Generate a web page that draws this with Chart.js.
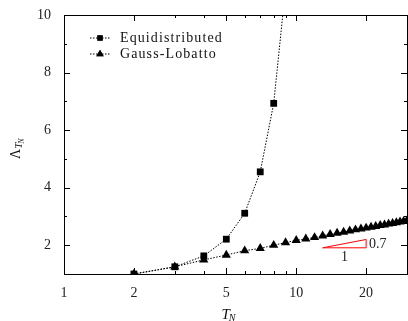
<!DOCTYPE html>
<html><head><meta charset="utf-8">
<script src="https://cdn.jsdelivr.net/npm/chart.js@4/dist/chart.umd.min.js"></script>
<style>html,body{margin:0;padding:0;background:#fff}#c{display:block}</style>
</head><body>
<canvas id="c" width="408" height="321"></canvas>
<script>
// ---- data ----
const equiN   = [2, 3, 4, 5, 6, 7, 8, 9];
const equiVal = [1.0, 1.25, 1.63, 2.21, 3.11, 4.55, 6.93, 10.95];
const glN     = [2,3,4,5,6,7,8,9,10,11,12,13,14,15,16,17,18,19,20,21,22,23,24,25,26,27,28,29,30];
const glVal   = [1.0,1.25,1.49,1.66,1.81,1.89,2.00,2.09,2.17,2.22,2.27,2.33,2.38,2.42,2.46,2.50,2.54,2.57,2.60,2.63,2.66,2.69,2.71,2.74,2.76,2.79,2.81,2.83,2.86];
const xMajorTicks = [1, 2, 5, 10, 20];
const xMinorTicks = [3, 4, 6, 7, 8, 9, 30];
const yMajorTicks = [2, 4, 6, 8, 10];
const yMinorTicks = [3, 5, 7, 9];
const legendLabels = ['Equidistributed', 'Gauss-Lobatto'];
const slopeTri = {x0: 13, x1: 20, y0: 1.91, y1: 2.2, rise: '0.7', run: '1'};

const SERIF = '"Liberation Serif", "DejaVu Serif", serif';
const toPts = (xs, ys) => xs.map((x, i) => ({x, y: ys[i]}));

const areaPlugin = {
  id: 'area',
  afterLayout(chart) {
    const a = chart.chartArea, x = chart.scales.x;
    const R = chart.width - 1;
    x.right = R; x.width = R - x.left; x.configure();
    a.right = R; a.width = R - a.left;
  }
};

const framePlugin = {
  id: 'frame',
  afterDraw(chart) {
    const {ctx, chartArea: a, scales: {x, y}} = chart;
    ctx.save();
    ctx.strokeStyle = '#000';
    ctx.lineWidth = 1;
    ctx.strokeRect(Math.round(a.left) + 0.5, Math.round(a.top) + 0.5,
                   Math.round(a.right - a.left), Math.round(a.bottom - a.top));
    ctx.beginPath();
    const tick = (v, len, isX) => {
      if (isX) {
        const px = Math.round(x.getPixelForValue(v)) + 0.5;
        if (px <= a.left + 1 || px >= a.right - 1) return;
        ctx.moveTo(px, a.bottom); ctx.lineTo(px, a.bottom - len);
        ctx.moveTo(px, a.top); ctx.lineTo(px, a.top + len);
      } else {
        const py = Math.round(y.getPixelForValue(v)) + 0.5;
        if (py <= a.top + 1 || py >= a.bottom - 1) return;
        ctx.moveTo(a.left, py); ctx.lineTo(a.left + len, py);
        ctx.moveTo(a.right, py); ctx.lineTo(a.right - len, py);
      }
    };
    xMajorTicks.forEach(v => tick(v, 6, true));
    xMinorTicks.forEach(v => tick(v, 3, true));
    yMajorTicks.forEach(v => tick(v, 6, false));
    yMinorTicks.forEach(v => tick(v, 3, false));
    ctx.stroke();

    // slope triangle
    const X0 = x.getPixelForValue(slopeTri.x0), X1 = x.getPixelForValue(slopeTri.x1);
    const Y0 = y.getPixelForValue(slopeTri.y0), Y1 = y.getPixelForValue(slopeTri.y1);
    ctx.strokeStyle = '#ff0000';
    ctx.beginPath();
    ctx.moveTo(X0, Y0); ctx.lineTo(X1, Y1); ctx.lineTo(X1, Y0); ctx.closePath();
    ctx.stroke();
    ctx.fillStyle = '#222';
    ctx.font = '14px ' + SERIF;
    ctx.textBaseline = 'middle';
    ctx.textAlign = 'left';
    ctx.fillText(slopeTri.rise, X1 + 3, (Y0 + Y1) / 2 + 1);
    ctx.textAlign = 'center';
    ctx.fillText(slopeTri.run, (X0 + X1) / 2, Y0 + 10);

    // legend
    const ds = chart.data.datasets;
    const lx = a.left + 26, ly = a.top + 23;
    ds.forEach((d, i) => {
      const yy = ly + i * 16;
      ctx.save();
      ctx.strokeStyle = '#000';
      ctx.setLineDash([1.5, 1.5]);
      ctx.beginPath(); ctx.moveTo(lx, yy); ctx.lineTo(lx + 20, yy); ctx.stroke();
      ctx.restore();
      Chart.helpers.drawPoint(ctx, {pointStyle: d.pointStyle, radius: d.pointRadius - 1, borderWidth: 0}, lx + 10, yy);
      ctx.fillStyle = '#000';
      ctx.fill();
      ctx.fillStyle = '#111';
      ctx.textAlign = 'left';
      ctx.font = '14px ' + SERIF;
      ctx.letterSpacing = '1.1px';
      ctx.fillText(d.label, lx + 30, yy);
      ctx.letterSpacing = '0px';
    });

    // axis titles
    ctx.fillStyle = '#111';
    ctx.textBaseline = 'alphabetic';
    ctx.textAlign = 'left';
    // x title T_N
    ctx.font = 'italic 15px ' + SERIF;
    const tw = ctx.measureText('T').width;
    const tx = (a.left + a.right) / 2 - 14;
    ctx.fillText('T', tx, 319);
    ctx.font = 'italic 10px ' + SERIF;
    ctx.fillText('N', tx + tw - 1, 321);
    // y title Λ_{T_N}
    ctx.save();
    ctx.translate(20, 159);
    ctx.rotate(-Math.PI / 2);
    ctx.font = '14px ' + SERIF;
    ctx.fillText('Λ', 0, 0);
    const lw = ctx.measureText('Λ').width;
    ctx.font = 'italic 11px ' + SERIF;
    ctx.fillText('T', lw, 2);
    const tw2 = ctx.measureText('T').width;
    ctx.font = 'italic 8px ' + SERIF;
    ctx.fillText('N', lw + tw2 - 1, 4);
    ctx.restore();
    ctx.restore();
  }
};

new Chart(document.getElementById('c'), {
  type: 'line',
  data: {
    datasets: [
      { label: legendLabels[0], data: toPts(equiN, equiVal), pointStyle: 'rect', pointRadius: 4.8,
        borderColor: '#000', backgroundColor: '#000', borderWidth: 1, borderDash: [1.5, 1.5], pointBorderWidth: 0 },
      { label: legendLabels[1], data: toPts(glN, glVal), pointStyle: 'triangle', pointRadius: 5.3,
        borderColor: '#000', backgroundColor: '#000', borderWidth: 1, borderDash: [1.5, 1.5], pointBorderWidth: 0 }
    ]
  },
  options: {
    responsive: false, animation: false,
    layout: { padding: { top: 15, right: 1, left: 0, bottom: 0 } },
    plugins: { legend: { display: false }, tooltip: { enabled: false } },
    scales: {
      x: {
        type: 'logarithmic', min: 1, max: 30,
        grid: { display: false, drawTicks: false }, border: { display: false },
        afterBuildTicks: s => { s.ticks = xMajorTicks.map(v => ({value: v})); },
        afterFit: s => { s.height = 47; s.paddingLeft = 0; s.paddingRight = 0; s.paddingTop = 0; s.paddingBottom = 0; },
        ticks: { font: { family: SERIF, size: 14 }, color: '#222', padding: 11, maxRotation: 0, autoSkip: false,
                 callback: v => String(v) }
      },
      y: {
        min: 1, max: 10,
        grid: { display: false, drawTicks: false }, border: { display: false },
        afterBuildTicks: s => { s.ticks = yMajorTicks.map(v => ({value: v})); },
        afterFit: s => { s.width = 64; s.paddingLeft = 0; s.paddingRight = 0; s.paddingTop = 0; s.paddingBottom = 0; },
        ticks: { font: { family: SERIF, size: 14 }, color: '#222', padding: 13, callback: v => String(v) }
      }
    }
  },
  plugins: [areaPlugin, framePlugin]
});
</script>
</body></html>
